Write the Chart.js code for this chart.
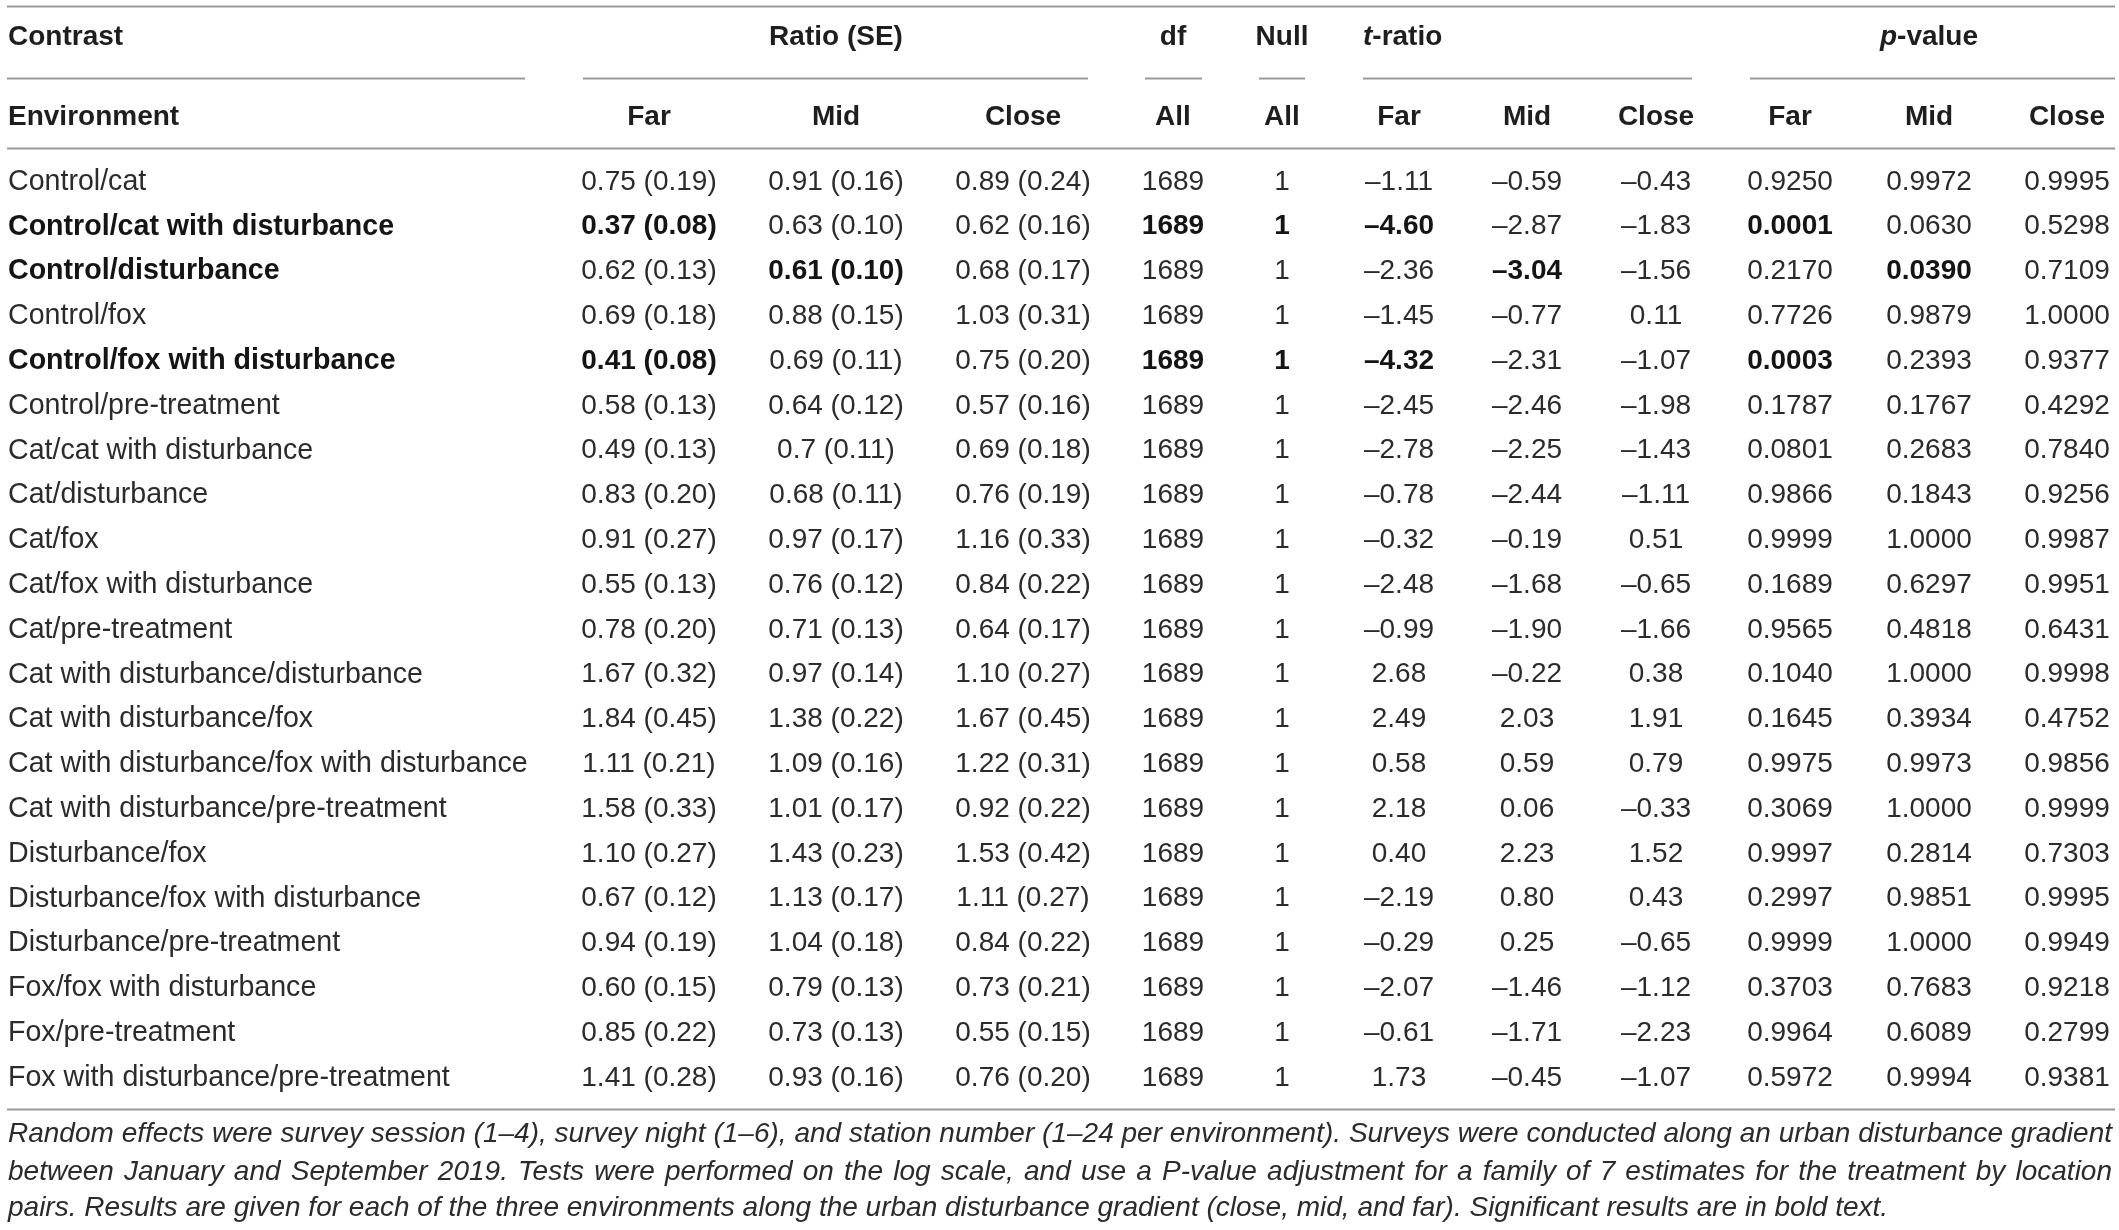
<!DOCTYPE html>
<html>
<head>
<meta charset="utf-8">
<script src="https://cdn.jsdelivr.net/npm/chart.js@4.4.0/dist/chart.umd.min.js"></script>
<style>
  html, body { margin: 0; padding: 0; background: #fff; }
  #wrap { width: 2119px; height: 1230px; }
</style>
</head>
<body>
<div id="wrap"><canvas id="myChart" width="2119" height="1230"></canvas></div>
<script>
// Table values
var contrasts = [
  'Control/cat', 'Control/cat with disturbance', 'Control/disturbance', 'Control/fox',
  'Control/fox with disturbance', 'Control/pre-treatment', 'Cat/cat with disturbance',
  'Cat/disturbance', 'Cat/fox', 'Cat/fox with disturbance', 'Cat/pre-treatment',
  'Cat with disturbance/disturbance', 'Cat with disturbance/fox',
  'Cat with disturbance/fox with disturbance', 'Cat with disturbance/pre-treatment',
  'Disturbance/fox', 'Disturbance/fox with disturbance', 'Disturbance/pre-treatment',
  'Fox/fox with disturbance', 'Fox/pre-treatment', 'Fox with disturbance/pre-treatment'
];
var ratioFar   = ['0.75','0.37','0.62','0.69','0.41','0.58','0.49','0.83','0.91','0.55','0.78','1.67','1.84','1.11','1.58','1.10','0.67','0.94','0.60','0.85','1.41'];
var seFar      = ['0.19','0.08','0.13','0.18','0.08','0.13','0.13','0.20','0.27','0.13','0.20','0.32','0.45','0.21','0.33','0.27','0.12','0.19','0.15','0.22','0.28'];
var ratioMid   = ['0.91','0.63','0.61','0.88','0.69','0.64','0.7','0.68','0.97','0.76','0.71','0.97','1.38','1.09','1.01','1.43','1.13','1.04','0.79','0.73','0.93'];
var seMid      = ['0.16','0.10','0.10','0.15','0.11','0.12','0.11','0.11','0.17','0.12','0.13','0.14','0.22','0.16','0.17','0.23','0.17','0.18','0.13','0.13','0.16'];
var ratioClose = ['0.89','0.62','0.68','1.03','0.75','0.57','0.69','0.76','1.16','0.84','0.64','1.10','1.67','1.22','0.92','1.53','1.11','0.84','0.73','0.55','0.76'];
var seClose    = ['0.24','0.16','0.17','0.31','0.20','0.16','0.18','0.19','0.33','0.22','0.17','0.27','0.45','0.31','0.22','0.42','0.27','0.22','0.21','0.15','0.20'];
var dfAll   = [1689,1689,1689,1689,1689,1689,1689,1689,1689,1689,1689,1689,1689,1689,1689,1689,1689,1689,1689,1689,1689];
var nullAll = [1,1,1,1,1,1,1,1,1,1,1,1,1,1,1,1,1,1,1,1,1];
var tFar   = [-1.11,-4.60,-2.36,-1.45,-4.32,-2.45,-2.78,-0.78,-0.32,-2.48,-0.99,2.68,2.49,0.58,2.18,0.40,-2.19,-0.29,-2.07,-0.61,1.73];
var tMid   = [-0.59,-2.87,-3.04,-0.77,-2.31,-2.46,-2.25,-2.44,-0.19,-1.68,-1.90,-0.22,2.03,0.59,0.06,2.23,0.80,0.25,-1.46,-1.71,-0.45];
var tClose = [-0.43,-1.83,-1.56,0.11,-1.07,-1.98,-1.43,-1.11,0.51,-0.65,-1.66,0.38,1.91,0.79,-0.33,1.52,0.43,-0.65,-1.12,-2.23,-1.07];
var pFar   = [0.9250,0.0001,0.2170,0.7726,0.0003,0.1787,0.0801,0.9866,0.9999,0.1689,0.9565,0.1040,0.1645,0.9975,0.3069,0.9997,0.2997,0.9999,0.3703,0.9964,0.5972];
var pMid   = [0.9972,0.0630,0.0390,0.9879,0.2393,0.1767,0.2683,0.1843,1.0000,0.6297,0.4818,1.0000,0.3934,0.9973,1.0000,0.2814,0.9851,1.0000,0.7683,0.6089,0.9994];
var pClose = [0.9995,0.5298,0.7109,1.0000,0.9377,0.4292,0.7840,0.9256,0.9987,0.9951,0.6431,0.9998,0.4752,0.9856,0.9999,0.7303,0.9995,0.9949,0.9218,0.2799,0.9381];
// significant cells (row index -> column keys shown in bold)
var boldCells = {
  1: ['name', 'rFar', 'df', 'null', 'tFar', 'pFar'],
  2: ['name', 'rMid', 'tMid', 'pMid'],
  4: ['name', 'rFar', 'df', 'null', 'tFar', 'pFar']
};
var footnote = [
  'Random effects were survey session (1\u20134), survey night (1\u20136), and station number (1\u201324 per environment). Surveys were conducted along an urban disturbance gradient',
  'between January and September 2019. Tests were performed on the log scale, and use a P-value adjustment for a family of 7 estimates for the treatment by location',
  'pairs. Results are given for each of the three environments along the urban disturbance gradient (close, mid, and far). Significant results are in bold text.'
];

// layout: x in px-like units, y in row units (row 0 = first contrast)
var colX = { name: 8, rFar: 649, rMid: 836, rClose: 1023, df: 1173, null: 1282,
             tFar: 1399, tMid: 1527, tClose: 1656, pFar: 1790, pMid: 1929, pClose: 2067 };
var rowY = { top: -3.906, head1: -3.214, groupLine: -2.299, head2: -1.429, headLine: -0.737,
             bottom: 20.714, note: [21.29, 22.12, 22.93] };
var groupLines = [[7, 525], [583, 1088], [1145, 1202], [1259, 1305], [1363, 1692], [1750, 2115]];
var FONT = '"Liberation Sans", Arial, Helvetica, sans-serif';

function minus(v, d) { return v.toFixed(d).replace('-', '\u2013'); }

var columns = [
  { key: 'name',   align: 'left',   size: 28.6, text: function (i) { return contrasts[i]; } },
  { key: 'rFar',   align: 'center', size: 28, text: function (i) { return ratioFar[i] + ' (' + seFar[i] + ')'; } },
  { key: 'rMid',   align: 'center', size: 28, text: function (i) { return ratioMid[i] + ' (' + seMid[i] + ')'; } },
  { key: 'rClose', align: 'center', size: 28, text: function (i) { return ratioClose[i] + ' (' + seClose[i] + ')'; } },
  { key: 'df',     align: 'center', size: 28, text: function (i) { return String(dfAll[i]); } },
  { key: 'null',   align: 'center', size: 28, text: function (i) { return String(nullAll[i]); } },
  { key: 'tFar',   align: 'center', size: 28, text: function (i) { return minus(tFar[i], 2); } },
  { key: 'tMid',   align: 'center', size: 28, text: function (i) { return minus(tMid[i], 2); } },
  { key: 'tClose', align: 'center', size: 28, text: function (i) { return minus(tClose[i], 2); } },
  { key: 'pFar',   align: 'center', size: 28, text: function (i) { return pFar[i].toFixed(4); } },
  { key: 'pMid',   align: 'center', size: 28, text: function (i) { return pMid[i].toFixed(4); } },
  { key: 'pClose', align: 'center', size: 28, text: function (i) { return pClose[i].toFixed(4); } }
];

// draws the table text and rules at scale positions
var tablePlugin = {
  id: 'tableText',
  afterDatasetsDraw: function (chart) {
    var ctx = chart.ctx, sx = chart.scales.x, sy = chart.scales.y;
    var X = function (v) { return sx.getPixelForValue(v); };
    var Y = function (v) { return sy.getPixelForValue(v); };
    ctx.save();

    // rules
    ctx.strokeStyle = '#9a9a9a';
    ctx.lineWidth = 2;
    function hline(x1, x2, y) {
      ctx.beginPath(); ctx.moveTo(X(x1), Math.round(Y(y)) + 0.5); ctx.lineTo(X(x2), Math.round(Y(y)) + 0.5); ctx.stroke();
    }
    hline(7, 2115, rowY.top);
    hline(7, 2115, rowY.headLine);
    hline(7, 2115, rowY.bottom);
    groupLines.forEach(function (g) { hline(g[0], g[1], rowY.groupLine); });

    // headers
    ctx.fillStyle = '#1e1e1e';
    ctx.textBaseline = 'middle';
    var hb = 'bold 28px ' + FONT, hbi = 'italic bold 28px ' + FONT;
    function txt(s, x, y, align, font) { ctx.font = font; ctx.textAlign = align; ctx.fillText(s, x, y); }
    var y1 = Y(rowY.head1), y2 = Y(rowY.head2);
    txt('Contrast', X(colX.name), y1, 'left', hb);
    txt('Ratio (SE)', X(colX.rMid), y1, 'center', hb);
    txt('df', X(colX.df), y1, 'center', hb);
    txt('Null', X(colX.null), y1, 'center', hb);
    // t-ratio, left at group start
    ctx.font = hbi; var wt = ctx.measureText('t').width;
    txt('t', X(1363), y1, 'left', hbi);
    txt('-ratio', X(1363) + wt, y1, 'left', hb);
    // p-value, centered over group
    ctx.font = hbi; var wp = ctx.measureText('p').width;
    ctx.font = hb; var wv = ctx.measureText('-value').width;
    var px0 = X(colX.pMid) - (wp + wv) / 2;
    txt('p', px0, y1, 'left', hbi);
    txt('-value', px0 + wp, y1, 'left', hb);

    txt('Environment', X(colX.name), y2, 'left', hb);
    [['rFar','Far'],['rMid','Mid'],['rClose','Close'],['df','All'],['null','All'],
     ['tFar','Far'],['tMid','Mid'],['tClose','Close'],['pFar','Far'],['pMid','Mid'],['pClose','Close']]
      .forEach(function (h) { txt(h[1], X(colX[h[0]]), y2, 'center', hb); });

    // cells from dataset points
    chart.data.datasets.forEach(function (ds, d) {
      var col = columns[d];
      chart.getDatasetMeta(d).data.forEach(function (el, i) {
        var bold = boldCells[i] && boldCells[i].indexOf(col.key) >= 0;
        ctx.fillStyle = bold ? '#141414' : '#2b2b2b';
        txt(col.text(i), el.x, el.y + 1, col.align, (bold ? 'bold ' : '') + col.size + 'px ' + FONT);
      });
    });

    // footnote, first two lines justified
    ctx.fillStyle = '#2b2b2b';
    ctx.font = 'italic 28px ' + FONT;
    ctx.textAlign = 'left';
    var left = X(8), right = X(2112);
    footnote.forEach(function (line, k) {
      var y = Y(rowY.note[k]);
      if (k === footnote.length - 1) { ctx.fillText(line, left, y); return; }
      var words = line.split(' ');
      var sum = 0;
      words.forEach(function (w) { sum += ctx.measureText(w).width; });
      var gap = (right - left - sum) / (words.length - 1);
      var x = left;
      words.forEach(function (w) { ctx.fillText(w, x, y); x += ctx.measureText(w).width + gap; });
    });
    ctx.restore();
  }
};

var ctx = document.getElementById('myChart').getContext('2d');
var chart = new Chart(ctx, {
  type: 'scatter',
  data: {
    datasets: columns.map(function (col) {
      return {
        label: col.key,
        data: contrasts.map(function (c, i) { return { x: colX[col.key], y: i }; }),
        pointRadius: 0,
        pointHoverRadius: 0
      };
    })
  },
  options: {
    responsive: false,
    devicePixelRatio: 1,
    animation: false,
    events: [],
    layout: { padding: 0 },
    plugins: { legend: { display: false }, tooltip: { enabled: false }, title: { display: false } },
    scales: {
      x: { type: 'linear', min: 0, max: 2119, display: false },
      y: { type: 'linear', reverse: true, min: -4.04, max: 23.42, display: false }
    }
  },
  plugins: [tablePlugin]
});
</script>
</body>
</html>
